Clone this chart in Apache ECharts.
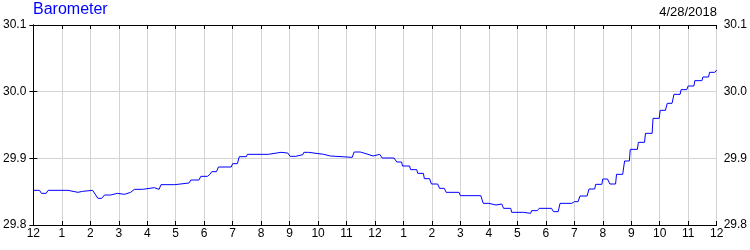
<!DOCTYPE html>
<html>
<head>
<meta charset="utf-8">
<style>html,body{margin:0;padding:0;background:#fff}#c{width:750px;height:250px}</style>
<script src="https://cdn.jsdelivr.net/npm/echarts@6/dist/echarts.min.js"></script>
</head>
<body>
<div id="c"></div>
<script>
// Step segments: minutes since midnight (start, end) and pressure
var segStartMin = [0,17,31,77,98,106,136,150,165,180,194,213,232,257,269,301,332,353,372,376,390,420,434,451,497,524,541,555,570,584,616,630,676,691,705,720,735,766,778,795,810,824,839,856,870,900,948,962,977,991,1008,1035,1050,1066,1096,1110,1140,1152,1171,1185,1200,1215,1229,1246,1258,1275,1290,1306,1321,1336,1350,1365,1380,1394,1411,1425,1440];
var segEndMin   = [13,27,73,94,104,125,144,163,177,192,205,230,255,265,298,328,349,367,372,386,417,430,449,495,522,536,553,568,580,612,626,672,689,703,716,730,760,776,793,808,822,835,852,866,897,943,960,975,987,1006,1033,1048,1062,1092,1106,1135,1148,1167,1183,1198,1210,1227,1242,1256,1273,1288,1304,1319,1332,1346,1363,1377,1392,1409,1423,1436,1440];
var pressure    = [29.852,29.8475,29.852,29.849,29.8505,29.852,29.840,29.845,29.8475,29.846,29.849,29.8535,29.856,29.8535,29.8605,29.863,29.8675,29.873,29.876,29.880,29.887,29.892,29.9025,29.906,29.909,29.908,29.903,29.9055,29.909,29.906,29.9035,29.9015,29.9095,29.9065,29.9035,29.906,29.9005,29.8945,29.8885,29.883,29.8775,29.8695,29.8615,29.855,29.849,29.844,29.8325,29.830,29.8315,29.825,29.819,29.8175,29.8215,29.825,29.820,29.8325,29.835,29.8435,29.854,29.861,29.869,29.8615,29.876,29.896,29.9135,29.924,29.9375,29.960,29.972,29.9825,29.996,30.003,30.0085,30.0165,30.022,30.029,30.0325];
var hourLabels = ['12','1','2','3','4','5','6','7','8','9','10','11','12','1','2','3','4','5','6','7','8','9','10','11','12'];
var yTicks = [29.8, 29.9, 30.0, 30.1];
var titleText = 'Barometer';
var dateText = '4/28/2018';

var points = [];
for (var i = 0; i < pressure.length; i++) {
  points.push([segStartMin[i], pressure[i]]);
  if (segEndMin[i] !== segStartMin[i]) points.push([segEndMin[i], pressure[i]]);
}

var FONT = 'Liberation Sans, Arial, sans-serif';
var chart = echarts.init(document.getElementById('c'), null, {renderer: 'canvas'});
var yAxisCommon = {
  type: 'value', min: yTicks[0], max: yTicks[yTicks.length - 1], interval: 0.1,
  axisLine: {show: true, lineStyle: {color: '#000', width: 1}},
  axisTick: {show: true, inside: true, length: 4, lineStyle: {color: '#000'}},
  axisLabel: {color: '#000', fontSize: 12, fontFamily: FONT, margin: 7,
    formatter: function (v) { return v.toFixed(1); }},
  splitLine: {show: true, lineStyle: {color: '#d3d3d3', width: 1}}
};
chart.setOption({
  animation: false,
  backgroundColor: '#fff',
  title: [
    {text: titleText, left: 33, top: 2, padding: 0,
     textStyle: {color: '#0000ff', fontSize: 16, fontWeight: 'normal', fontFamily: FONT}},
    {text: dateText, right: 33, top: 6, padding: 0,
     textStyle: {color: '#000', fontSize: 13, fontWeight: 'normal', fontFamily: FONT}}
  ],
  grid: {left: 30, right: 30, top: 25, bottom: 25, containLabel: false},
  xAxis: [
    {type: 'value', position: 'bottom', min: 0, max: 1440, interval: 60,
     axisLine: {show: true, onZero: false, lineStyle: {color: '#000', width: 1}},
     axisTick: {show: true, inside: true, length: 4, lineStyle: {color: '#000'}},
     axisLabel: {color: '#000', fontSize: 12, fontFamily: FONT, margin: 3, interval: 0,
       showMinLabel: true, showMaxLabel: true,
       formatter: function (v) { return hourLabels[Math.round(v / 60)]; }},
     splitLine: {show: true, lineStyle: {color: '#d3d3d3', width: 1}}},
    {type: 'value', position: 'top', min: 0, max: 1440, interval: 60,
     axisLine: {show: true, onZero: false, lineStyle: {color: '#000', width: 1}},
     axisTick: {show: true, inside: true, length: 4, lineStyle: {color: '#000'}},
     axisLabel: {show: false}, splitLine: {show: false}}
  ],
  yAxis: [
    Object.assign({}, yAxisCommon, {position: 'left'}),
    Object.assign({}, yAxisCommon, {position: 'right', splitLine: {show: false}})
  ],
  series: [{
    type: 'line', xAxisIndex: 0, yAxisIndex: 0, data: points,
    showSymbol: false, symbol: 'none',
    lineStyle: {color: '#0000ff', width: 1}
  }]
});
</script>
</body>
</html>
